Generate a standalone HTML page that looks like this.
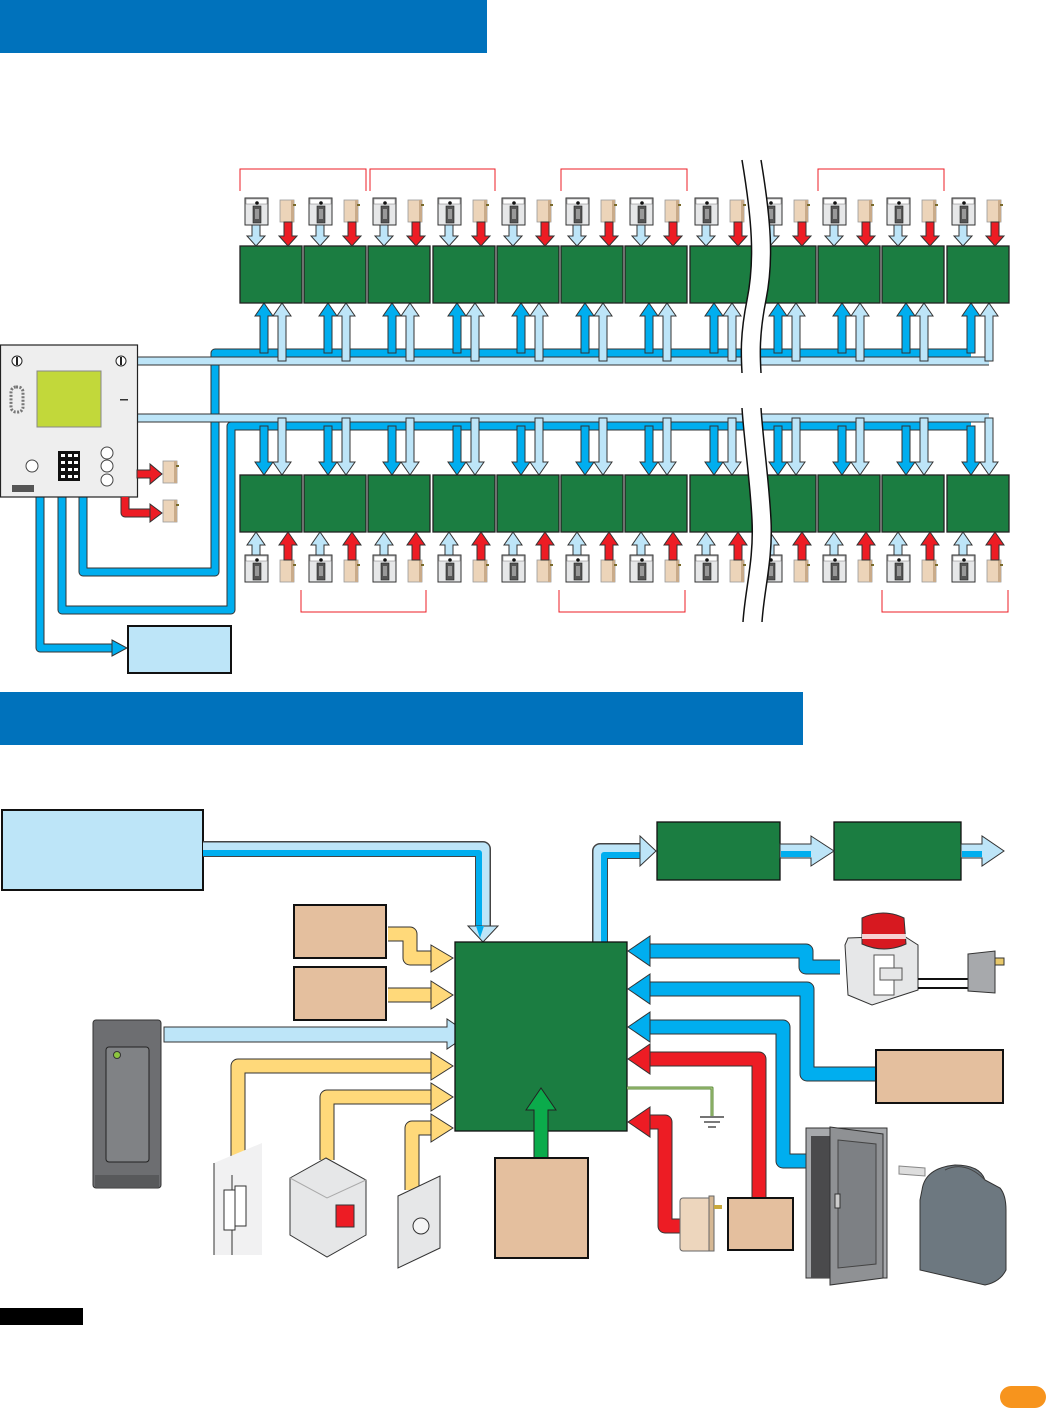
<!DOCTYPE html>
<html><head><meta charset="utf-8"><style>
html,body{margin:0;padding:0;background:#fff;}
svg{display:block;}
</style></head><body>
<svg width="1047" height="1410" viewBox="0 0 1047 1410" xmlns="http://www.w3.org/2000/svg" xmlns:xlink="http://www.w3.org/1999/xlink">
<defs>
  <g id="rdr">
    <rect x="0" y="0" width="23" height="27" fill="#e6e7e8" stroke="#333" stroke-width="1"/>
    <rect x="1" y="1" width="21" height="5" fill="#fff" stroke="#777" stroke-width="0.5"/>
    <circle cx="12" cy="5" r="1.8" fill="#111"/>
    <rect x="8" y="8" width="8" height="17" fill="#555" stroke="#222" stroke-width="0.6"/>
    <rect x="10" y="11" width="4" height="10" fill="#999"/>
  </g>
  <g id="stk">
    <rect x="0" y="0" width="14" height="22" fill="#ecd4b9" stroke="#999" stroke-width="0.8"/>
    <rect x="11" y="0" width="3" height="22" fill="#c9ab8a"/>
    <rect x="13" y="4" width="3" height="2" fill="#7a6a2a"/>
  </g>
  <g id="topu">
    <polygon points="20,353 28,353 28,316 33,316 24,303 15,316 20,316" fill="#00aeef" stroke="#333" stroke-width="1"/>
    <polygon points="38,361 46,361 46,316 51,316 42,303 33,316 38,316" fill="#bde5f8" stroke="#333" stroke-width="1"/>
    <rect x="0" y="246" width="62" height="57" fill="#1b7d41" stroke="#222" stroke-width="1.3"/>
    <use href="#rdr" xlink:href="#rdr" x="5" y="198"/>
    <use href="#stk" xlink:href="#stk" x="40" y="200"/>
    <polygon points="12,225 20,225 20,236 25,236 16,246 7,236 12,236" fill="#bde5f8" stroke="#333" stroke-width="1"/>
    <polygon points="44,222 52,222 52,236 57,236 48,246 39,236 44,236" fill="#ed1c24" stroke="#333" stroke-width="1"/>
  </g>
  <g id="botu">
    <polygon points="20,426 28,426 28,462 33,462 24,475 15,462 20,462" fill="#00aeef" stroke="#333" stroke-width="1"/>
    <polygon points="38,418 46,418 46,462 51,462 42,475 33,462 38,462" fill="#bde5f8" stroke="#333" stroke-width="1"/>
    <rect x="0" y="475" width="62" height="57" fill="#1b7d41" stroke="#222" stroke-width="1.3"/>
    <use href="#rdr" xlink:href="#rdr" x="5" y="555"/>
    <use href="#stk" xlink:href="#stk" x="40" y="560"/>
    <polygon points="12,555 20,555 20,545 25,545 16,532 7,545 12,545" fill="#bde5f8" stroke="#333" stroke-width="1"/>
    <polygon points="44,560 52,560 52,545 57,545 48,532 39,545 44,545" fill="#ed1c24" stroke="#333" stroke-width="1"/>
  </g>
</defs>

<!-- headers -->
<rect x="0" y="0" width="487" height="53" fill="#0072bc"/>
<rect x="0" y="692" width="803" height="53" fill="#0072bc"/>

<!-- red brackets -->
<g fill="none" stroke="#ed1c24" stroke-width="1">
  <path d="M240,191 V169 H366 V191"/><path d="M370,191 V169 H495 V191"/>
  <path d="M561,191 V169 H687 V191"/><path d="M818,191 V169 H944 V191"/>
  <path d="M301,590 V612 H426 V590"/><path d="M559,590 V612 H685 V590"/>
  <path d="M882,590 V612 H1008 V590"/>
</g>

<!-- dark blue loops from panel -->
<g fill="none" stroke-linejoin="round">
  <path d="M83,497 V572 H215 V353 H971" stroke="#333" stroke-width="9"/>
  <path d="M83,497 V572 H215 V353 H971" stroke="#00aeef" stroke-width="7"/>
  <path d="M62,497 V610 H231 V426 H971" stroke="#333" stroke-width="9"/>
  <path d="M62,497 V610 H231 V426 H971" stroke="#00aeef" stroke-width="7"/>
  <path d="M40,497 V648 H112" stroke="#333" stroke-width="9"/>
  <path d="M40,497 V648 H112" stroke="#00aeef" stroke-width="7"/>
  <path d="M137,361 H989" stroke="#333" stroke-width="9"/>
  <path d="M137,361 H989" stroke="#bde5f8" stroke-width="7"/>
  <path d="M137,418 H989" stroke="#333" stroke-width="9"/>
  <path d="M137,418 H989" stroke="#bde5f8" stroke-width="7"/>
</g>
<polygon points="112,640 112,656 127,648" fill="#00aeef" stroke="#333" stroke-width="1"/>
<rect x="128" y="626" width="103" height="47" fill="#bde5f8" stroke="#111" stroke-width="2"/>

<!-- units -->
<use href="#topu" xlink:href="#topu" x="240"/><use href="#topu" xlink:href="#topu" x="304"/>
<use href="#topu" xlink:href="#topu" x="368"/><use href="#topu" xlink:href="#topu" x="433"/>
<use href="#topu" xlink:href="#topu" x="497"/><use href="#topu" xlink:href="#topu" x="561"/>
<use href="#topu" xlink:href="#topu" x="625"/><use href="#topu" xlink:href="#topu" x="690"/>
<use href="#topu" xlink:href="#topu" x="754"/><use href="#topu" xlink:href="#topu" x="818"/>
<use href="#topu" xlink:href="#topu" x="882"/><use href="#topu" xlink:href="#topu" x="947"/>
<use href="#botu" xlink:href="#botu" x="240"/><use href="#botu" xlink:href="#botu" x="304"/>
<use href="#botu" xlink:href="#botu" x="368"/><use href="#botu" xlink:href="#botu" x="433"/>
<use href="#botu" xlink:href="#botu" x="497"/><use href="#botu" xlink:href="#botu" x="561"/>
<use href="#botu" xlink:href="#botu" x="625"/><use href="#botu" xlink:href="#botu" x="690"/>
<use href="#botu" xlink:href="#botu" x="754"/><use href="#botu" xlink:href="#botu" x="818"/>
<use href="#botu" xlink:href="#botu" x="882"/><use href="#botu" xlink:href="#botu" x="947"/>

<!-- break lines -->
<g stroke="#111" stroke-width="1.5">
  <path d="M742,160 C752,220 755,260 747,300 C740,335 741,355 742,373 L761,373 C760,355 759,335 766,300 C774,260 771,220 761,160 Z" fill="#fff" stroke="none"/>
  <path d="M742,160 C752,220 755,260 747,300 C740,335 741,355 742,373" fill="none"/>
  <path d="M761,160 C771,220 774,260 766,300 C759,335 760,355 761,373" fill="none"/>
  <path d="M742,408 C744,440 750,480 752,520 C754,560 745,590 743,622 L762,622 C764,590 773,560 771,520 C769,480 763,440 761,408 Z" fill="#fff" stroke="none"/>
  <path d="M742,408 C744,440 750,480 752,520 C754,560 745,590 743,622" fill="none"/>
  <path d="M761,408 C763,440 769,480 771,520 C773,560 764,590 762,622" fill="none"/>
</g>

<!-- panel -->
<rect x="0.5" y="345" width="137" height="152" fill="#eeeeee" stroke="#222" stroke-width="1.2"/>
<circle cx="17" cy="361" r="5" fill="#fff" stroke="#222"/><rect x="16" y="357" width="2" height="8" fill="#222"/>
<circle cx="121" cy="361" r="5" fill="#fff" stroke="#222"/><rect x="120" y="357" width="2" height="8" fill="#222"/>
<rect x="37" y="371" width="64" height="56" fill="#c2d83a" stroke="#888"/>
<rect x="11" y="387" width="12" height="25" rx="5" fill="none" stroke="#777" stroke-dasharray="2,1.5" stroke-width="3"/>
<rect x="120" y="399" width="8" height="1.5" fill="#333"/>
<circle cx="32" cy="466" r="6" fill="#fff" stroke="#444"/>
<rect x="58" y="451" width="22" height="30" fill="#111"/>
<g fill="#fff"><rect x="61" y="454" width="4" height="3"/><rect x="68" y="454" width="4" height="3"/><rect x="74" y="454" width="4" height="3"/>
<rect x="61" y="461" width="4" height="3"/><rect x="68" y="461" width="4" height="3"/><rect x="74" y="461" width="4" height="3"/>
<rect x="61" y="468" width="4" height="3"/><rect x="68" y="468" width="4" height="3"/><rect x="74" y="468" width="4" height="3"/>
<rect x="61" y="475" width="4" height="3"/><rect x="68" y="475" width="4" height="3"/><rect x="74" y="475" width="4" height="3"/></g>
<circle cx="107" cy="453" r="6" fill="#fff" stroke="#444"/><circle cx="107" cy="466" r="6" fill="#fff" stroke="#444"/><circle cx="107" cy="480" r="6" fill="#fff" stroke="#444"/>
<rect x="12" y="485" width="22" height="7" fill="#555"/>
<!-- red arrows from panel -->
<polygon points="137,470 150,470 150,464 162,474 150,484 150,478 137,478" fill="#ed1c24" stroke="#333" stroke-width="1"/>
<path d="M125,497 V513 H150" fill="none" stroke="#333" stroke-width="9" stroke-linejoin="round"/>
<path d="M125,497 V513 H150" fill="none" stroke="#ed1c24" stroke-width="7" stroke-linejoin="round"/>
<polygon points="150,504 162,513 150,522" fill="#ed1c24" stroke="#333" stroke-width="1"/>
<use href="#stk" xlink:href="#stk" x="163" y="461"/>
<use href="#stk" xlink:href="#stk" x="163" y="500"/>

<!-- ========== bottom section ========== -->
<rect x="2" y="810" width="201" height="80" fill="#bde5f8" stroke="#111" stroke-width="2"/>
<g fill="none" stroke-linejoin="round">
  <path d="M203,849 H483 V928" stroke="#444" stroke-width="16"/>
  <path d="M203,849 H483 V928" stroke="#bde5f8" stroke-width="13"/>
  <path d="M203,853 H479 V928" stroke="#00aeef" stroke-width="6"/>
  <path d="M600,942 V851 H640" stroke="#444" stroke-width="16"/>
  <path d="M600,942 V851 H640" stroke="#bde5f8" stroke-width="13"/>
  <path d="M604,942 V855 H640" stroke="#00aeef" stroke-width="6"/>
</g>
<polygon points="468,926 498,926 483,942" fill="#bde5f8" stroke="#333"/>
<polygon points="476,926 484,926 480,938" fill="#00aeef"/>
<polygon points="640,836 656,851 640,866" fill="#bde5f8" stroke="#333"/>
<rect x="657" y="822" width="123" height="58" fill="#1b7d41" stroke="#111" stroke-width="1.3"/>
<rect x="834" y="822" width="127" height="58" fill="#1b7d41" stroke="#111" stroke-width="1.3"/>
<polygon points="780,844 811,844 811,836 834,851 811,866 811,858 780,858" fill="#bde5f8" stroke="#333"/>
<rect x="781" y="851" width="30" height="6" fill="#00aeef"/>
<polygon points="961,844 982,844 982,836 1004,851 982,866 982,858 961,858" fill="#bde5f8" stroke="#333"/>
<rect x="962" y="851" width="20" height="6" fill="#00aeef"/>

<rect x="294" y="905" width="92" height="53" fill="#e4bf9e" stroke="#111" stroke-width="2"/>
<rect x="294" y="967" width="92" height="53" fill="#e4bf9e" stroke="#111" stroke-width="2"/>

<!-- yellow arrows -->
<g fill="none" stroke-linejoin="round">
  <path d="M388,934 H410 V958 H434" stroke="#333" stroke-width="15"/>
  <path d="M388,934 H410 V958 H434" stroke="#ffd97a" stroke-width="13"/>
  <path d="M388,995 H434" stroke="#333" stroke-width="15"/>
  <path d="M388,995 H434" stroke="#ffd97a" stroke-width="13"/>
  <path d="M238,1160 V1066 H434" stroke="#333" stroke-width="15"/>
  <path d="M238,1160 V1066 H434" stroke="#ffd97a" stroke-width="13"/>
  <path d="M327,1160 V1097 H434" stroke="#333" stroke-width="15"/>
  <path d="M327,1160 V1097 H434" stroke="#ffd97a" stroke-width="13"/>
  <path d="M412,1190 V1128 H434" stroke="#333" stroke-width="15"/>
  <path d="M412,1190 V1128 H434" stroke="#ffd97a" stroke-width="13"/>
</g>
<g fill="#ffd97a" stroke="#333">
  <polygon points="431,945 453,958 431,972"/><polygon points="431,981 453,995 431,1009"/>
  <polygon points="431,1052 453,1066 431,1080"/><polygon points="431,1083 453,1097 431,1111"/>
  <polygon points="431,1114 453,1128 431,1142"/>
</g>
<!-- reader arrow -->
<polygon points="164,1027 447,1027 447,1019 469,1034 447,1049 447,1042 164,1042" fill="#bde5f8" stroke="#333"/>

<!-- main box -->
<rect x="455" y="942" width="172" height="189" fill="#1b7d41" stroke="#111" stroke-width="1.3"/>
<!-- green arrow -->
<polygon points="534,1158 548,1158 548,1110 556,1110 541,1088 526,1110 534,1110" fill="#0bab4b" stroke="#222"/>
<rect x="495" y="1158" width="93" height="100" fill="#e4bf9e" stroke="#111" stroke-width="2"/>

<!-- return arrows -->
<g fill="none" stroke-linejoin="round">
  <path d="M840,967 H806 V951 H648" stroke="#333" stroke-width="15"/>
  <path d="M840,967 H806 V951 H648" stroke="#00aeef" stroke-width="13"/>
  <path d="M876,1074 H807 V989 H648" stroke="#333" stroke-width="15"/>
  <path d="M876,1074 H807 V989 H648" stroke="#00aeef" stroke-width="13"/>
  <path d="M806,1161 H783 V1027 H648" stroke="#333" stroke-width="15"/>
  <path d="M806,1161 H783 V1027 H648" stroke="#00aeef" stroke-width="13"/>
  <path d="M759,1198 V1059 H648" stroke="#333" stroke-width="15"/>
  <path d="M759,1198 V1059 H648" stroke="#ed1c24" stroke-width="13"/>
  <path d="M680,1226 H665 V1122 H648" stroke="#333" stroke-width="15"/>
  <path d="M680,1226 H665 V1122 H648" stroke="#ed1c24" stroke-width="13"/>
  <path d="M627,1088 H712 V1116" stroke="#5a8a3a" stroke-width="3"/>
  <path d="M627,1088 H712 V1116" stroke="#b5d08a" stroke-width="1"/>
</g>
<g stroke="#333">
  <polygon points="650,936 628,951 650,966" fill="#00aeef"/>
  <polygon points="650,974 628,989 650,1004" fill="#00aeef"/>
  <polygon points="650,1012 628,1027 650,1042" fill="#00aeef"/>
  <polygon points="650,1044 628,1059 650,1074" fill="#ed1c24"/>
  <polygon points="650,1107 628,1122 650,1137" fill="#ed1c24"/>
</g>
<g stroke="#222" stroke-width="1.2"><line x1="700" y1="1117" x2="724" y2="1117"/><line x1="704" y1="1122" x2="720" y2="1122"/><line x1="708" y1="1127" x2="716" y2="1127"/></g>

<rect x="876" y="1050" width="127" height="53" fill="#e4bf9e" stroke="#111" stroke-width="2"/>
<rect x="728" y="1198" width="65" height="52" fill="#e4bf9e" stroke="#111" stroke-width="2"/>

<!-- siren -->
<path d="M845,945 L848,938 L904,936 L918,945 L918,990 L872,1005 L848,995 Z" fill="#e6e7e8" stroke="#333"/>
<rect x="874" y="955" width="20" height="40" fill="#fff" stroke="#555"/>
<rect x="880" y="968" width="22" height="12" fill="#e6e7e8" stroke="#555"/>
<path d="M862,918 Q883,908 904,918 L906,944 Q884,954 862,944 Z" fill="#d71920" stroke="#333"/>
<rect x="862" y="934" width="44" height="5" fill="#fff" opacity="0.8"/>
<line x1="918" y1="979" x2="968" y2="979" stroke="#111" stroke-width="2"/>
<line x1="918" y1="988" x2="968" y2="988" stroke="#111" stroke-width="2"/>
<path d="M968,954 L995,951 L995,993 L968,991 Z" fill="#a7a9ac" stroke="#333"/>
<rect x="995" y="958" width="9" height="7" fill="#e8c86a" stroke="#333"/>

<!-- transformer -->
<rect x="680" y="1198" width="33" height="53" rx="3" fill="#edd6bd" stroke="#666"/>
<rect x="709" y="1196" width="5" height="55" fill="#d6b894" stroke="#666"/>
<rect x="714" y="1205" width="8" height="4" fill="#c9a83a"/>

<!-- door -->
<rect x="806" y="1128" width="81" height="150" fill="#a7a9ac" stroke="#333"/>
<rect x="811" y="1136" width="22" height="142" fill="#4a4a4c"/>
<path d="M830,1127 L883,1134 L883,1278 L830,1285 Z" fill="#8f9194" stroke="#333"/>
<path d="M838,1140 L876,1144 L876,1264 L838,1268 Z" fill="#7d8084" stroke="#444"/>
<rect x="835" y="1194" width="5" height="14" fill="#ccc" stroke="#333"/>

<!-- gate operator -->
<path d="M899,1166 L925,1168 L925,1176 L899,1174 Z" fill="#ddd" stroke="#888"/>
<path d="M922,1190 Q925,1168 955,1165 Q980,1165 985,1180 L1000,1188 Q1006,1195 1006,1210 L1006,1270 Q1000,1282 985,1285 L920,1270 L920,1200 Z" fill="#6d7880" stroke="#333"/>
<path d="M945,1170 Q965,1160 985,1180" fill="none" stroke="#444"/>

<!-- prox reader -->
<rect x="93" y="1020" width="68" height="168" rx="3" fill="#6d6e71" stroke="#333"/>
<rect x="106" y="1047" width="43" height="115" rx="3" fill="#808285" stroke="#222"/>
<circle cx="117" cy="1055" r="3.5" fill="#8dc63f" stroke="#333"/>
<rect x="95" y="1175" width="64" height="12" fill="#58595b"/>

<!-- door contact -->
<path d="M214,1163 L262,1143 L262,1255 L214,1255 Z" fill="#f1f1f2"/>
<path d="M214,1163 L214,1255" stroke="#333"/><path d="M232,1175 L232,1255" stroke="#333"/>
<rect x="224" y="1190" width="11" height="40" fill="#fff" stroke="#333"/>
<rect x="235" y="1186" width="11" height="40" fill="#fff" stroke="#333"/>
<!-- button box -->
<path d="M290,1178 L326,1158 L366,1180 L366,1235 L327,1257 L290,1235 Z" fill="#e6e7e8" stroke="#333"/>
<path d="M290,1178 L327,1198 L366,1180" fill="none" stroke="#aaa"/>
<rect x="336" y="1205" width="18" height="22" fill="#ed1c24" stroke="#333"/>
<!-- bell plate -->
<path d="M398,1196 L440,1176 L440,1248 L398,1268 Z" fill="#e6e7e8" stroke="#333"/>
<circle cx="421" cy="1226" r="8" fill="#f5f5f5" stroke="#333"/>

<!-- footer -->
<rect x="0" y="1308" width="83" height="17" fill="#000"/>
<rect x="1000" y="1386" width="46" height="22" rx="11" fill="#f7941d"/>
</svg>
</body></html>
